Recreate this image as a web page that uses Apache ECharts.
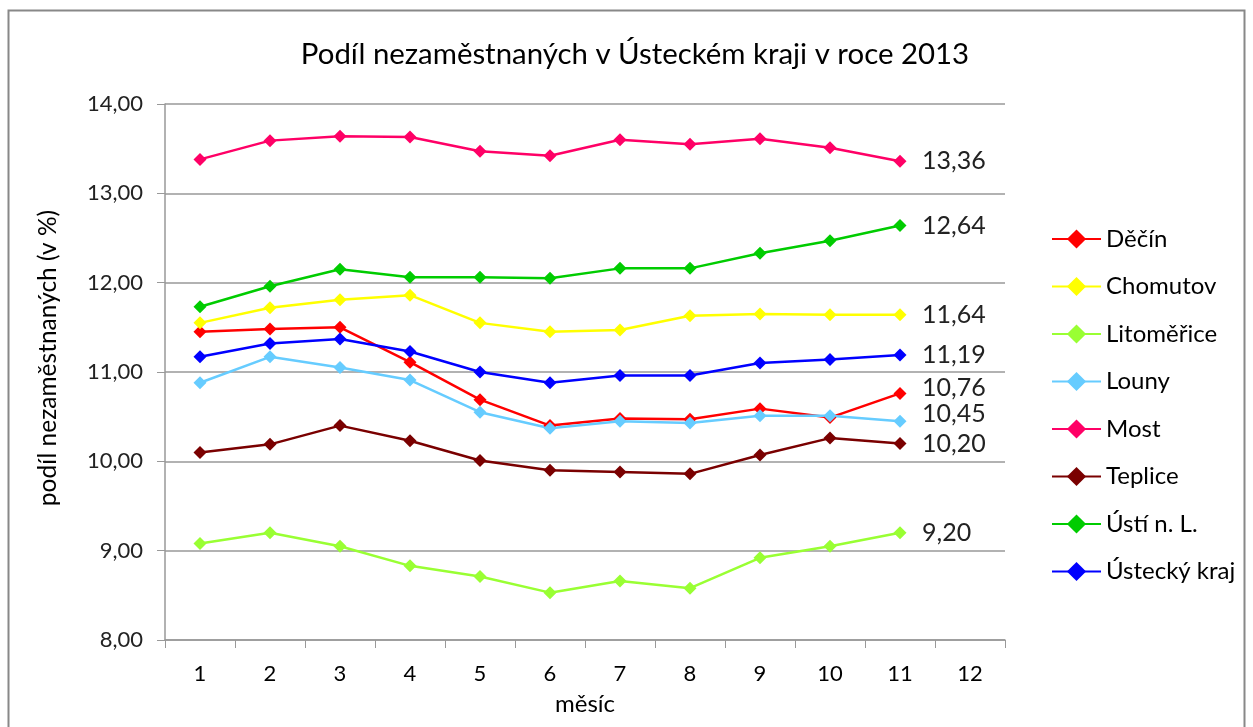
<!DOCTYPE html>
<html><head><meta charset="utf-8">
<script src="https://cdn.jsdelivr.net/npm/echarts@6/dist/echarts.min.js"></script>
<style>html,body{margin:0;padding:0;background:#fff}#c{width:1253px;height:727px}</style>
</head><body><div id="c"></div>
<script>
const months = ['1','2','3','4','5','6','7','8','9','10','11','12'];
const seriesNames = ['Děčín','Chomutov','Litoměřice','Louny','Most','Teplice','Ústí n. L.','Ústecký kraj'];
const decin      = [11.45,11.48,11.50,11.11,10.69,10.40,10.48,10.47,10.59,10.49,10.76];
const chomutov   = [11.55,11.72,11.81,11.86,11.55,11.45,11.47,11.63,11.65,11.64,11.64];
const litomerice = [9.08,9.20,9.05,8.83,8.71,8.53,8.66,8.58,8.92,9.05,9.20];
const louny      = [10.88,11.17,11.05,10.91,10.55,10.37,10.45,10.43,10.51,10.51,10.45];
const most       = [13.38,13.59,13.64,13.63,13.47,13.42,13.60,13.55,13.61,13.51,13.36];
const teplice    = [10.10,10.19,10.40,10.23,10.01,9.90,9.88,9.86,10.07,10.26,10.20];
const usti       = [11.73,11.96,12.15,12.06,12.06,12.05,12.16,12.16,12.33,12.47,12.64];
const kraj       = [11.17,11.32,11.37,11.23,11.00,10.88,10.96,10.96,11.10,11.14,11.19];
const values = [decin, chomutov, litomerice, louny, most, teplice, usti, kraj];
const colors = ['#ff0000','#ffff00','#99ff33','#66ccff','#ff0066','#7a0000','#00cc00','#0000ff'];
const labelOffsets = [[0,-6],[0,0],[0,0],[0,-7],[0,0],[0,0],[0,0],[0,0]];
const font = 'Lato, "Open Sans", sans-serif';
const fmt = v => v.toFixed(2).replace('.', ',');

const chart = echarts.init(document.getElementById('c'));
chart.setOption({
  animation: false,
  title: { text: 'Podíl nezaměstnaných v Ústeckém kraji v roce 2013', left: 630, top: 35, textAlign: 'center',
    textStyle: { fontFamily: font, fontSize: 29.4, fontWeight: 'normal', color: '#000' } },
  graphic: [{ type: 'rect', shape: { x: 8.5, y: 10.5, width: 1236, height: 730 }, style: { fill: 'none', stroke: '#888', lineWidth: 2 } }],
  legend: {
    orient: 'vertical', left: 1046, top: 222, itemGap: 23.5, itemWidth: 49, itemHeight: 24,
    textStyle: { fontFamily: font, fontSize: 24, color: '#000' },
    data: seriesNames
  },
  grid: { left: 165, right: 248, top: 104, bottom: 87 },
  xAxis: {
    type: 'category', data: months, boundaryGap: true,
    name: 'měsíc', nameLocation: 'middle', nameGap: 52,
    nameTextStyle: { fontFamily: font, fontSize: 24, color: '#000' },
    axisLine: { lineStyle: { color: '#999', width: 1.5 } },
    axisTick: { show: true, length: 8, alignWithLabel: false, lineStyle: { color: '#999' } },
    axisLabel: { fontFamily: font, fontSize: 22, color: '#000', margin: 23 }
  },
  yAxis: {
    type: 'value', min: 8, max: 14, interval: 1,
    name: 'podíl nezaměstnaných (v %)', nameLocation: 'middle', nameGap: 104, nameRotate: 90,
    nameTextStyle: { fontFamily: font, fontSize: 24.5, color: '#000', padding: [0, 0, 0, 28] },
    axisLine: { show: true, lineStyle: { color: '#999', width: 1.5 } },
    axisTick: { show: true, length: 8, inside: false, lineStyle: { color: '#999' } },
    axisLabel: { fontFamily: font, fontSize: 22, color: '#222', margin: 22, formatter: v => fmt(v) },
    splitLine: { lineStyle: { color: '#999', width: 1.5 } }
  },
  series: seriesNames.map((n, i) => ({
    name: n, type: 'line', data: values[i], symbol: 'diamond', symbolSize: 13,
    lineStyle: { color: colors[i], width: 2.5 }, itemStyle: { color: colors[i] },
    endLabel: { show: true, formatter: p => fmt(p.value), distance: 22, offset: labelOffsets[i],
      fontFamily: font, fontSize: 25, color: '#222' }
  }))
});
</script></body></html>
